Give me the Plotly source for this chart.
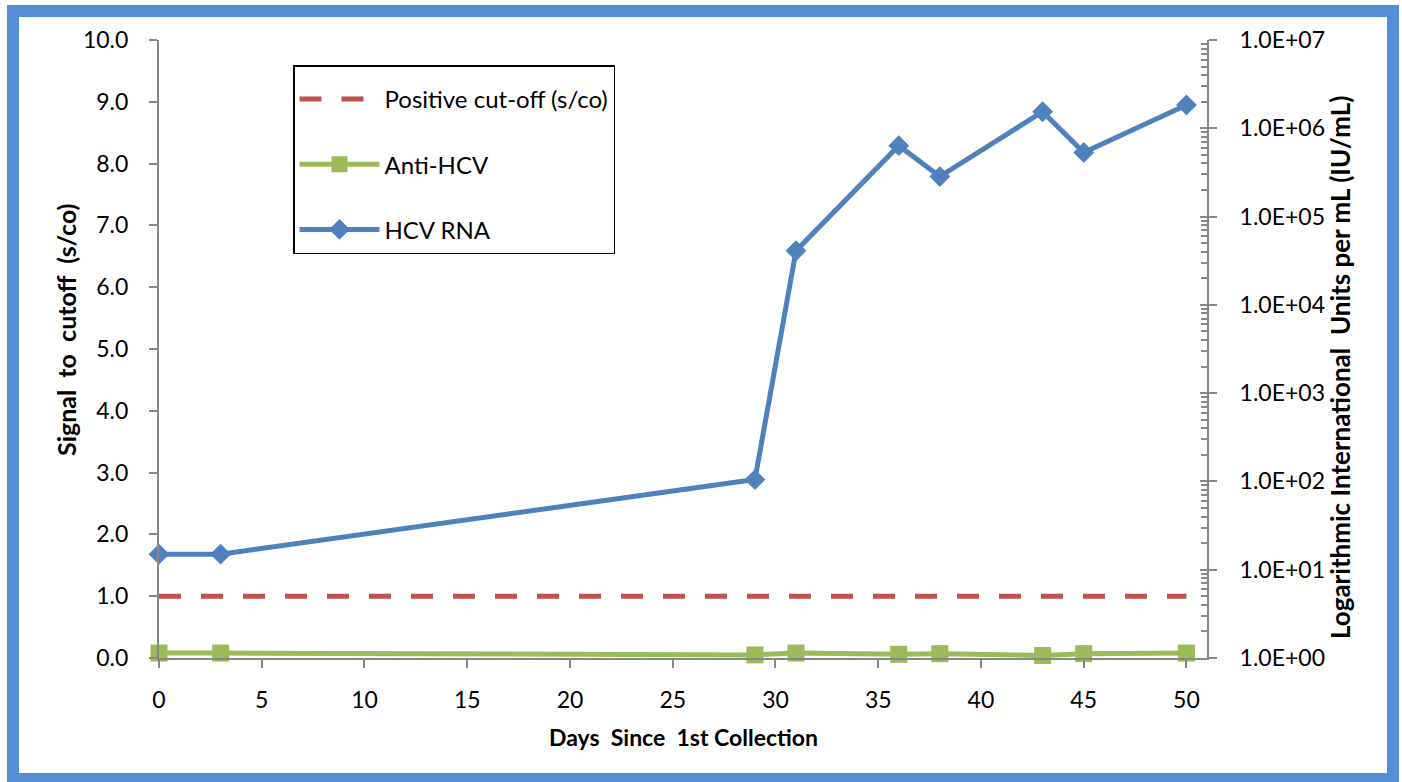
import plotly.graph_objects as go

days = [0, 3, 29, 31, 36, 38, 43, 45, 50]
cutoff = [1.0, 1.0, 1.0, 1.0, 1.0, 1.0, 1.0, 1.0, 1.0]
anti_hcv = [0.08, 0.08, 0.05, 0.08, 0.06, 0.07, 0.04, 0.07, 0.08]
hcv_rna = [15, 15, 105, 41000, 636000, 284000, 1540000, 532000, 1840000]

left_ticks = [0, 1, 2, 3, 4, 5, 6, 7, 8, 9, 10]
right_tickvals = [1, 10, 100, 1000, 10000, 100000, 1000000, 10000000]
right_ticktext = ["1.0E+00", "1.0E+01", "1.0E+02", "1.0E+03", "1.0E+04",
                  "1.0E+05", "1.0E+06", "1.0E+07"]
x_ticks = [0, 5, 10, 15, 20, 25, 30, 35, 40, 45, 50]

FONT = "Lato, Calibri, 'Liberation Sans', sans-serif"
AX = "#878787"
RED = "#C0504D"
GREEN = "#9BBB59"
BLUE = "#4F81BD"
NB = "\u00a0"

W, H = 1402, 782
L, R, T, B = 159, 195, 40, 124
pw, ph = W - L - R, H - T - B

fig = go.Figure()

fig.add_trace(go.Scatter(
    x=days, y=cutoff, name="Positive cut-off (s/co)", mode="lines",
    line=dict(color=RED, width=5, dash="22px,20px"),
    legendgroup="a", yaxis="y", cliponaxis=False))
fig.add_trace(go.Scatter(
    x=days, y=anti_hcv, name="Anti-HCV", mode="lines+markers",
    line=dict(color=GREEN, width=5),
    marker=dict(symbol="square", size=17, color=GREEN),
    legendgroup="b", yaxis="y", cliponaxis=False))
fig.add_trace(go.Scatter(
    x=days, y=hcv_rna, name="HCV RNA", mode="lines+markers",
    line=dict(color=BLUE, width=5),
    marker=dict(symbol="diamond", size=16, color=BLUE),
    legendgroup="c", yaxis="y2", cliponaxis=False))
# invisible trace to carry an inside-tick copy of the right axis (crossing ticks)
fig.add_trace(go.Scatter(x=[days[0]], y=[hcv_rna[0]], yaxis="y3", mode="none",
                         showlegend=False, hoverinfo="skip"))

minor_vals = []
for e in range(0, 7):
    for k in range(2, 10):
        minor_vals.append(k * 10 ** e)

fig.update_layout(
    width=W, height=H,
    margin=dict(l=L, r=R, t=T, b=B),
    paper_bgcolor="white", plot_bgcolor="white",
    font=dict(family=FONT, size=23, color="black"),
    showlegend=True,
    legend=dict(
        x=(293 - L) / pw, y=(H - B - 65) / ph,
        xanchor="left", yanchor="top",
        bgcolor="white", bordercolor="black", borderwidth=1.5,
        font=dict(family=FONT, size=24, color="black"),
        traceorder="grouped", tracegroupgap=31,
        itemwidth=80,
        title=dict(text=NB, font=dict(size=8)),
    ),
    xaxis=dict(
        range=[0, 51], tickvals=x_ticks, showgrid=False, zeroline=False,
        showline=True, linecolor=AX, linewidth=2,
        ticks="outside", ticklen=8, tickwidth=2, tickcolor=AX,
        ticklabelstandoff=12,
        tickfont=dict(family=FONT, size=23),
    ),
    yaxis=dict(
        range=[0, 10], tickvals=left_ticks, tickformat=".1f",
        showgrid=False, zeroline=False,
        showline=True, linecolor=AX, linewidth=2,
        ticks="outside", ticklen=8, tickwidth=2, tickcolor=AX,
        ticklabelstandoff=16,
        tickfont=dict(family=FONT, size=23),
    ),
    yaxis2=dict(
        type="log", range=[0, 7], overlaying="y", side="right",
        tickvals=right_tickvals, ticktext=right_ticktext,
        showgrid=False, zeroline=False,
        showline=True, linecolor=AX, linewidth=2,
        ticks="outside", ticklen=8, tickwidth=2, tickcolor=AX,
        ticklabelstandoff=18,
        tickfont=dict(family=FONT, size=23),
        minor=dict(tickvals=minor_vals, ticks="inside", ticklen=6,
                   tickwidth=2, tickcolor=AX, showgrid=False),
    ),
    yaxis3=dict(
        type="log", range=[0, 7], overlaying="y", side="right",
        tickvals=right_tickvals, showticklabels=False,
        showgrid=False, zeroline=False, showline=False,
        ticks="inside", ticklen=7, tickwidth=2, tickcolor=AX,
    ),
    annotations=[
        dict(text="<b>Signal" + NB + " to" + NB + " cutoff" + NB + " (s/co)</b>",
             textangle=-90, xref="paper", yref="paper",
             x=(66 - L) / pw, y=(H - B - 330) / ph,
             xanchor="center", yanchor="middle", showarrow=False,
             font=dict(family=FONT, size=25)),
        dict(text="<b>Logarithmic International" + NB + " Units per mL (IU/mL)</b>",
             textangle=-90, xref="paper", yref="paper",
             x=(1340 - L) / pw, y=(H - B - 368) / ph,
             xanchor="center", yanchor="middle", showarrow=False,
             font=dict(family=FONT, size=26)),
        dict(text="<b>Days" + NB + " Since" + NB + " 1st Collection</b>",
             xref="paper", yref="paper",
             x=(683 - L) / pw, y=(H - B - 737) / ph,
             xanchor="center", yanchor="middle", showarrow=False,
             font=dict(family=FONT, size=23)),
    ],
    shapes=[
        dict(type="rect", xref="paper", yref="paper",
             x0=(13 - L) / pw, x1=(1393 - L) / pw,
             y0=(H - B - 779) / ph, y1=(H - B - 11) / ph,
             line=dict(color="#558ED5", width=12), fillcolor="rgba(0,0,0,0)",
             layer="below"),
    ],
)

fig.write_html(
    "out.html",
    config={"displayModeBar": False},
    post_script="document.body.style.margin='0';document.body.style.overflow='hidden';",
)
